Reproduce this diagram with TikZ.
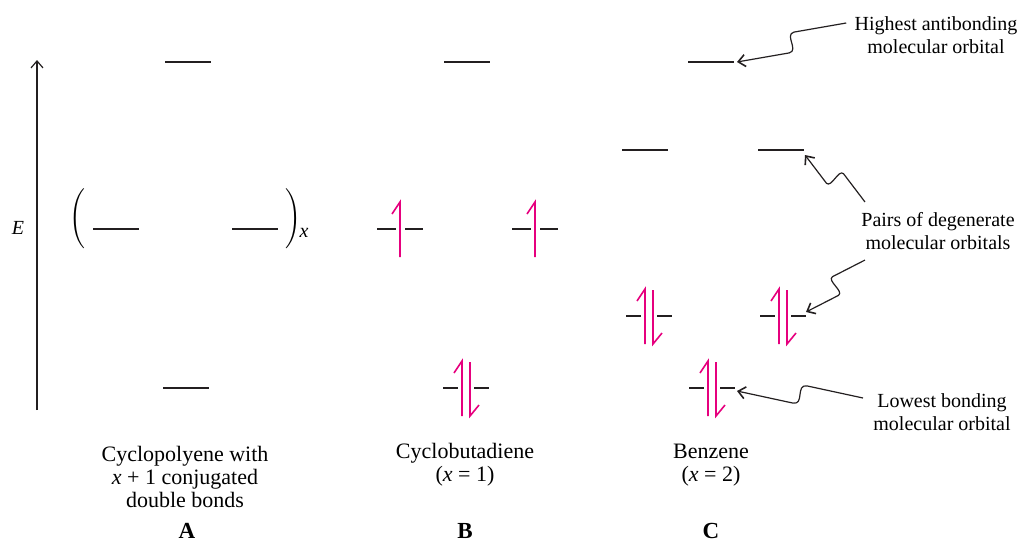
\documentclass[tikz,border=0pt]{standalone}
\usepackage{fontspec}
\setmainfont{Liberation Serif}
\usetikzlibrary{positioning, arrows.meta, calc}
\definecolor{ink}{HTML}{231F20}
\definecolor{spin}{HTML}{E6007E}

\tikzset{
  level/.style={ink, line width=0.7pt},
  electron/.style={spin, line width=0.8pt},
  note/.style={align=center, font=\fontsize{10}{11.5}\selectfont, inner sep=2pt},
  caption/.style={align=center, font=\fontsize{11}{11.5}\selectfont, inner sep=2pt},
  squig/.style={ink, line width=0.6pt, line join=round, -{Straight Barb[length=3.5pt, width=6pt, line width=0.8pt]}},
}

% electrons and levels, (x,y) in pixels of the figure
\newcommand{\spinup}[2]{\draw[electron] (#1-8,#2-15) -- (#1,#2-27) -- (#1,#2+28);}
\newcommand{\spindown}[2]{\draw[electron] (#1,#2-26) -- (#1,#2+28) -- (#1+9,#2+17);}
\newcommand{\lvlone}[2]{\draw[level] (#1-23,#2) -- (#1-4,#2) (#1+5,#2) -- (#1+23,#2); \spinup{#1}{#2}}
\newcommand{\lvltwo}[2]{\draw[level] (#1-23,#2) -- (#1-8,#2) (#1+8,#2) -- (#1+23,#2); \spinup{#1-4}{#2} \spindown{#1+4}{#2}}
% arrow with a jog in the middle
\newcommand{\squig}[2]{\draw[squig] (#1) -- ($(#1)!0.45!(#2)!4.5pt!-90:(#2)$)
  .. controls ($(#1)!0.54!(#2)!5pt!-90:(#2)$) and ($(#1)!0.46!(#2)!5pt!90:(#2)$)
  .. ($(#1)!0.55!(#2)!4.5pt!90:(#2)$) -- (#2);}

\begin{document}
\begin{tikzpicture}[x=0.5pt, y=-0.5pt, font=\fontsize{10}{11.5}\selectfont]
  \useasboundingbox (0,0) rectangle (1032,542);

  % Energy axis
  \draw[ink, line width=0.6pt, -{Straight Barb[length=3.5pt, width=6pt]}] (37,410) -- (37,60);
  \node (E) at (18,228) {\textit{E}};

  % Empty levels
  \foreach \x/\y in {188/62, 467/62, 711/62, 116/229, 255/229, 186/388, 645/150, 781/150} {
    \draw[level] (\x-23,\y) -- (\x+23,\y);
  }

  % Filled levels
  \lvlone{400}{229}
  \lvlone{535}{229}
  \lvltwo{466}{388}
  \lvltwo{649}{316}
  \lvltwo{783}{316}
  \lvltwo{712}{388}

  % Cyclopolyene brackets
  \node (lp) at (77,219) {$\Bigg($};
  \node (rp) at (293,219) {$\Bigg)$};
  \node (sub) at (304,233) {\textit{x}};

  % Labels
  \node[caption] (labA) at (185,477) {Cyclopolyene with\\\textit{x} + 1 conjugated\\double bonds};
  \node[caption] (labB) at (465,465) {Cyclobutadiene\\(\textit{x} = 1)};
  \node[caption] (labC) at (711,465) {Benzene\\(\textit{x} = 2)};
  \node[font=\fontsize{11.5}{12}\selectfont\bfseries] (A) at (187,531) {A};
  \node[font=\fontsize{11.5}{12}\selectfont\bfseries] (B) at (465,531) {B};
  \node[font=\fontsize{11.5}{12}\selectfont\bfseries] (C) at (711,531) {C};

  % Notes
  \node[note] (hi) at (936,35) {Highest antibonding\\molecular orbital};
  \node[note] (pairs) at (938,231) {Pairs of degenerate\\molecular orbitals};
  \node[note] (low) at (942,412) {Lowest bonding\\molecular orbital};

  \coordinate (Ctop) at (737,62);
  \coordinate (Cup) at (805,155);
  \coordinate (Cdown) at (806,312);
  \coordinate (Clow) at (737,391);

  \squig{[xshift=-2pt, yshift=6pt]hi.west}{Ctop}
  \squig{[xshift=4pt, yshift=3pt]pairs.north west}{Cup}
  \squig{[xshift=4pt, yshift=-3pt]pairs.south west}{Cdown}
  \squig{[xshift=-3pt, yshift=7pt]low.west}{Clow}
\end{tikzpicture}
\end{document}
